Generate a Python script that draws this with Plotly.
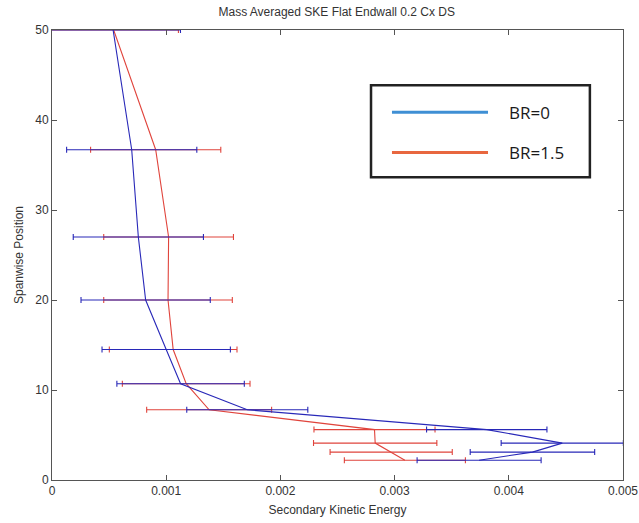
import plotly.graph_objects as go

# Spanwise positions (shared)
span = [50, 36.7, 27.0, 20.0, 14.5, 10.7, 7.8, 5.6, 4.1, 3.1, 2.2]

# BR=0 series
ske_br0 = [0.000535, 0.000698, 0.000756, 0.00082, 0.0010, 0.001126, 0.00171, 0.003807, 0.004468, 0.004207, 0.00374]
err_br0 = [0.00059, 0.00057, 0.00057, 0.000566, 0.000562, 0.000558, 0.00053, 0.000527, 0.000535, 0.000545, 0.000543]

# BR=1.5 series
ske_br15 = [0.00054, 0.000908, 0.001021, 0.001016, 0.001061, 0.001175, 0.001376, 0.002824, 0.00283, 0.00297, 0.00309]
err_br15 = [0.000567, 0.00057, 0.000568, 0.000563, 0.000559, 0.000559, 0.000547, 0.00053, 0.00054, 0.000535, 0.00053]

x_ticks = [0, 0.001, 0.002, 0.003, 0.004, 0.005]
x_tick_labels = ["0", "0.001", "0.002", "0.003", "0.004", "0.005"]
y_ticks = [0, 10, 20, 30, 40, 50]

legend_labels = ["BR=0", "BR=1.5"]

BLUE = "#2828b8"
RED = "#e0443c"
LEG_BLUE = "#3f8fd4"
LEG_RED = "#e8673f"

fig = go.Figure()
fig.add_trace(go.Scatter(
    x=ske_br15, y=span, mode="lines",
    line=dict(color=RED, width=1.1),
    error_x=dict(type="data", array=err_br15, visible=True, color=RED, thickness=1.1, width=3),
    showlegend=False,
))
fig.add_trace(go.Scatter(
    x=ske_br0, y=span, mode="lines",
    line=dict(color=BLUE, width=1.1),
    error_x=dict(type="data", array=err_br0, visible=True, color=BLUE, thickness=1.1, width=3),
    showlegend=False,
))

# Pasted-in legend box
shapes = [
    dict(type="rect", xref="paper", yref="paper", x0=0.5587, x1=0.942, y0=0.6726, y1=0.877,
         line=dict(color="#222222", width=2.5), fillcolor="white", layer="above"),
    dict(type="line", xref="paper", yref="paper", x0=0.5954, x1=0.7636, y0=0.8175, y1=0.8175,
         line=dict(color=LEG_BLUE, width=3), layer="above"),
    dict(type="line", xref="paper", yref="paper", x0=0.5954, x1=0.7636, y0=0.7277, y1=0.7277,
         line=dict(color=LEG_RED, width=3), layer="above"),
]
annotations = [
    dict(text=legend_labels[0], xref="paper", yref="paper", x=0.797, y=0.8175, xanchor="left",
         yanchor="middle", showarrow=False, font=dict(family="Open Sans", size=17, color="#1a1a1a")),
    dict(text=legend_labels[1], xref="paper", yref="paper", x=0.797, y=0.7277, xanchor="left",
         yanchor="middle", showarrow=False, font=dict(family="Open Sans", size=17, color="#1a1a1a")),
]

axis_common = dict(
    showgrid=False, zeroline=False, showline=True, linecolor="#555555", linewidth=1,
    mirror="ticks", ticks="inside", ticklen=5, tickcolor="#555555", automargin=False,
    tickfont=dict(family="Liberation Sans", size=12, color="#333333"),
)

fig.update_layout(
    width=639, height=523,
    margin=dict(l=52, r=16, t=29.5, b=43, autoexpand=False),
    paper_bgcolor="white", plot_bgcolor="white",
    title=dict(text="Mass Averaged SKE Flat Endwall 0.2 Cx DS", x=0.527, xanchor="center",
               y=0.977, yanchor="middle",
               font=dict(family="Liberation Sans", size=12, color="#333333")),
    xaxis=dict(range=[0, 0.005], tickvals=x_ticks, ticktext=x_tick_labels,
               title=dict(text="Secondary Kinetic Energy", standoff=8,
                          font=dict(family="Liberation Sans", size=12, color="#333333")),
               **axis_common),
    yaxis=dict(range=[0, 50], tickvals=y_ticks,
               title=dict(text="Spanwise Position", standoff=9,
                          font=dict(family="Liberation Sans", size=12, color="#333333")),
               **axis_common),
    shapes=shapes, annotations=annotations,
    showlegend=False,
)

fig.write_html("out.html", config={"displayModeBar": False},
               post_script="document.body.style.margin='0';document.body.style.overflow='hidden';")
